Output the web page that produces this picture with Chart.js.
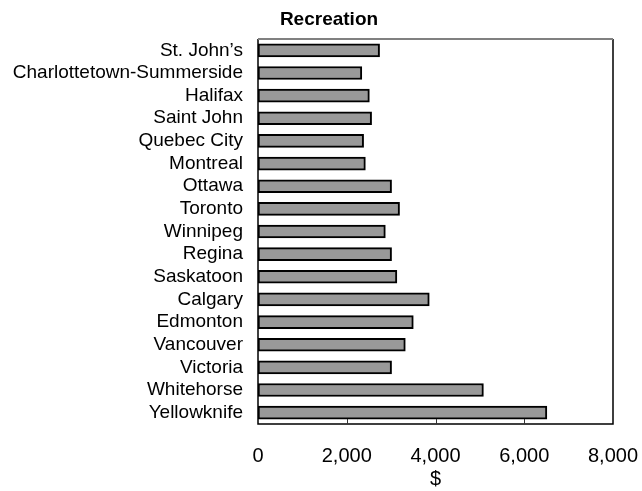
<!DOCTYPE html>
<html>
<head>
<meta charset="utf-8">
<script src="https://cdn.jsdelivr.net/npm/chart.js@4"></script>
<style>
  html, body { margin: 0; padding: 0; background: #fff; }
  #wrap { width: 642px; height: 491px; }
</style>
</head>
<body>
<div id="wrap"><canvas id="chart" width="642" height="491"></canvas></div>
<script>
// Recreation spending by city
const cities = ["St. John\u2019s", "Charlottetown-Summerside", "Halifax", "Saint John", "Quebec City",
    "Montreal", "Ottawa", "Toronto", "Winnipeg", "Regina", "Saskatoon", "Calgary", "Edmonton",
    "Vancouver", "Victoria", "Whitehorse", "Yellowknife"];
const spending = [2740, 2340, 2510, 2560, 2380, 2420, 3010, 3190, 2870, 3010, 3130, 3860, 3500,
    3320, 3010, 5080, 6510];
const xTicks = [0, 2000, 4000, 6000, 8000];
const chartTitle = "Recreation";
const axisTitle = "$";

// box round the plot plus the small inner tick marks on the bottom edge
const framePlugin = {
    id: 'frame',
    afterDatasetsDraw(chart) {
        const {ctx, chartArea: a, scales} = chart;
        ctx.save();
        ctx.lineWidth = 1.5;
        ctx.strokeStyle = '#000';
        ctx.beginPath();
        ctx.moveTo(a.left, a.top);
        ctx.lineTo(a.left, a.bottom);
        ctx.lineTo(a.right, a.bottom);
        ctx.lineTo(a.right, a.top);
        ctx.stroke();
        ctx.strokeStyle = '#808080';
        ctx.lineWidth = 2;
        ctx.beginPath();
        ctx.moveTo(a.left, a.top);
        ctx.lineTo(a.right, a.top);
        ctx.stroke();
        ctx.strokeStyle = '#333';
        ctx.lineWidth = 1;
        xTicks.slice(1, -1).forEach(v => {
            const x = Math.round(scales.x.getPixelForValue(v)) + 0.5;
            ctx.beginPath();
            ctx.moveTo(x, a.bottom);
            ctx.lineTo(x, a.bottom - 5);
            ctx.stroke();
        });
        ctx.restore();
    },
    afterDraw(chart) {
        const ctx = chart.ctx;
        ctx.save();
        ctx.font = 'bold 19px "Liberation Sans", Arial, sans-serif';
        ctx.fillStyle = '#000';
        ctx.textAlign = 'center';
        ctx.textBaseline = 'middle';
        ctx.fillText(chartTitle, 329, 20);
        ctx.restore();
    }
};

const ctx = document.getElementById('chart').getContext('2d');
new Chart(ctx, {
    type: 'bar',
    data: {
        labels: cities,
        datasets: [{
            data: spending,
            backgroundColor: '#999999',
            borderColor: '#000',
            borderWidth: 2,
            borderSkipped: false,
            barThickness: 13
        }]
    },
    options: {
        indexAxis: 'y',
        responsive: false,
        animation: false,
        layout: { padding: { top: 39, right: 29, left: 0, bottom: 0 } },
        plugins: {
            legend: { display: false },
            tooltip: { enabled: false }
        },
        scales: {
            x: {
                min: 0,
                max: 8000,
                afterBuildTicks: s => { s.ticks = xTicks.map(v => ({value: v})); },
                afterFit: s => {
                    s.height = 67;
                    s.paddingLeft = 0;
                    s.paddingRight = 0;
                },
                grid: { display: false },
                border: { display: false },
                ticks: {
                    padding: 12,
                    color: '#000',
                    font: { family: '"Liberation Sans", Arial, sans-serif', size: 20 },
                    maxRotation: 0,
                    callback: v => v.toLocaleString('en-US')
                },
                title: {
                    display: true,
                    text: axisTitle,
                    color: '#000',
                    padding: { top: 0, bottom: 0 },
                    font: { family: '"Liberation Sans", Arial, sans-serif', size: 20 }
                }
            },
            y: {
                afterFit: s => { s.width = 258; },
                grid: { display: false },
                border: { display: false },
                ticks: {
                    padding: 7,
                    color: '#000',
                    autoSkip: false,
                    font: { family: '"Liberation Sans", Arial, sans-serif', size: 19 }
                }
            }
        }
    },
    plugins: [framePlugin]
});
</script>
</body>
</html>
